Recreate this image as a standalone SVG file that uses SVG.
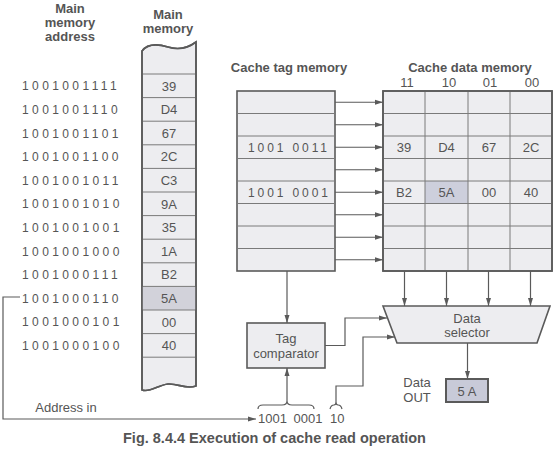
<svg xmlns="http://www.w3.org/2000/svg" width="557" height="455" viewBox="0 0 557 455">
<defs>
<marker id="ah" markerUnits="userSpaceOnUse" markerWidth="9" markerHeight="6" refX="8" refY="3" orient="auto">
<path d="M0,0.5 L8,3 L0,5.5 Z" fill="#5a5a5a"/>
</marker>
</defs>
<style>
text{font-family:"Liberation Sans",Arial,sans-serif;fill:#555}
.h{font-weight:bold;font-size:13px;text-anchor:middle}
.addr{font-size:12px;letter-spacing:3.4px}
.v{font-size:13px;text-anchor:middle}
.tag{font-size:12px;letter-spacing:2.9px}
.box{fill:#ededf0;stroke:#5a5a5a;stroke-width:1.6}
.grid{stroke:#7a7a7a;stroke-width:1;fill:none}
.conn{stroke:#5a5a5a;stroke-width:1.2;fill:none}
.hl{fill:#cdcfdc}
</style>
<rect width="557" height="455" fill="#fff"/>

<g id="headers">
<text class="h" x="70" y="13">Main</text>
<text class="h" x="70" y="27">memory</text>
<text class="h" x="70" y="41">address</text>
<text class="h" x="168" y="19">Main</text>
<text class="h" x="168" y="33">memory</text>
<text class="h" x="289" y="72">Cache tag memory</text>
<text class="h" x="470" y="72">Cache data memory</text>
<text class="v" x="407" y="87">11</text>
<text class="v" x="449" y="87">10</text>
<text class="v" x="490" y="87">01</text>
<text class="v" x="532" y="87">00</text>
</g>

<g id="main-memory-addresses">
<text class="addr" x="22" y="90.3">1001001111</text>
<text class="addr" x="22" y="113.9">1001001110</text>
<text class="addr" x="22" y="137.5">1001001101</text>
<text class="addr" x="22" y="161.1">1001001100</text>
<text class="addr" x="22" y="184.7">1001001011</text>
<text class="addr" x="22" y="208.3">1001001010</text>
<text class="addr" x="22" y="231.9">1001001001</text>
<text class="addr" x="22" y="255.5">1001001000</text>
<text class="addr" x="22" y="279.1">1001000111</text>
<text class="addr" x="22" y="302.7">1001000110</text>
<text class="addr" x="22" y="326.3">1001000101</text>
<text class="addr" x="22" y="349.9">1001000100</text>
</g>

<g id="main-memory">
<path class="box" d="M142,51 C148,43 158,44 168,47 C178,50 188,48 196,42 L196,386 C186,390 178,383 168,384 C158,385 150,393 142,390 Z"/>
<rect x="142" y="286.4" width="54" height="23.6" fill="#d2d2da"/>
<path class="grid" d="M142,74H196M142,97.6H196M142,121.2H196M142,144.8H196M142,168.4H196M142,192H196M142,215.6H196M142,239.2H196M142,262.8H196M142,286.4H196M142,310H196M142,333.6H196M142,357.2H196"/>
<path d="M142,51 C148,43 158,44 168,47 C178,50 188,48 196,42 L196,386 C186,390 178,383 168,384 C158,385 150,393 142,390 Z" fill="none" stroke="#5a5a5a" stroke-width="1.6"/>
<text class="v" x="169" y="90.5">39</text>
<text class="v" x="169" y="114.1">D4</text>
<text class="v" x="169" y="137.7">67</text>
<text class="v" x="169" y="161.3">2C</text>
<text class="v" x="169" y="184.9">C3</text>
<text class="v" x="169" y="208.5">9A</text>
<text class="v" x="169" y="232.1">35</text>
<text class="v" x="169" y="255.7">1A</text>
<text class="v" x="169" y="279.3">B2</text>
<text class="v" x="169" y="302.9">5A</text>
<text class="v" x="169" y="326.5">00</text>
<text class="v" x="169" y="350.1">40</text>
</g>

<g id="cache-tag-memory">
<rect class="box" x="237" y="91" width="98" height="180"/>
<path class="grid" d="M237,113.5H335M237,136H335M237,158.5H335M237,181H335M237,203.5H335M237,226H335M237,248.5H335"/>
<text class="tag" x="248" y="151.5">1001 0011</text>
<text class="tag" x="248" y="196.5">1001 0001</text>
</g>

<g id="cache-data-memory">
<rect class="box" x="383" y="91" width="169" height="180"/>
<rect class="hl" x="425" y="181" width="43" height="22.5"/>
<path class="grid" d="M383,113.5H552M383,136H552M383,158.5H552M383,181H552M383,203.5H552M383,226H552M383,248.5H552M425,91V271M468,91V271M510,91V271"/>
<rect x="383" y="91" width="169" height="180" fill="none" stroke="#5a5a5a" stroke-width="1.6"/>
<text class="v" x="404" y="152">39</text>
<text class="v" x="446.5" y="152">D4</text>
<text class="v" x="489" y="152">67</text>
<text class="v" x="531" y="152">2C</text>
<text class="v" x="404" y="197">B2</text>
<text class="v" x="446.5" y="197">5A</text>
<text class="v" x="489" y="197">00</text>
<text class="v" x="531" y="197">40</text>
</g>

<g id="tag-comparator">
<rect class="box" x="247" y="323" width="78" height="45" stroke-width="2"/>
<text class="v" x="286" y="343">Tag</text>
<text class="v" x="286" y="358">comparator</text>
</g>

<g id="data-selector">
<path class="box" d="M383,306 L550,306 L537,343 L397,343 Z" stroke-width="2"/>
<text class="v" x="467" y="323">Data</text>
<text class="v" x="467" y="337">selector</text>
</g>

<g id="data-out">
<text class="v" x="417" y="387">Data</text>
<text class="v" x="417" y="402">OUT</text>
<rect x="446" y="379" width="42" height="23" fill="#c8cad8" stroke="#5a5a5a" stroke-width="2"/>
<text class="v" x="467" y="395.5">5 A</text>
</g>

<g id="address-in">
<text class="v" x="66" y="412">Address in</text>
<text x="258" y="423" style="font-size:13px;word-spacing:3px">1001 0001</text>
<text x="330" y="423" style="font-size:13px">10</text>
<path class="conn" d="M258,409 Q258,405 263,405 L282,405 Q287,405 287,401 Q287,405 292,405 L309,405 Q314,405 314,409"/>
<path class="conn" d="M330,409 Q331,405 334,405 Q336,405 336,402 Q336,405 338,405 Q341,405 342,409"/>
</g>

<g id="connectors">
<line class="conn" x1="335" y1="102.25" x2="383" y2="102.25" marker-end="url(#ah)"/>
<line class="conn" x1="335" y1="124.75" x2="383" y2="124.75" marker-end="url(#ah)"/>
<line class="conn" x1="335" y1="147.25" x2="383" y2="147.25" marker-end="url(#ah)"/>
<line class="conn" x1="335" y1="169.75" x2="383" y2="169.75" marker-end="url(#ah)"/>
<line class="conn" x1="335" y1="192.25" x2="383" y2="192.25" marker-end="url(#ah)"/>
<line class="conn" x1="335" y1="214.75" x2="383" y2="214.75" marker-end="url(#ah)"/>
<line class="conn" x1="335" y1="237.25" x2="383" y2="237.25" marker-end="url(#ah)"/>
<line class="conn" x1="335" y1="259.75" x2="383" y2="259.75" marker-end="url(#ah)"/>
<line class="conn" x1="404.5" y1="271" x2="404.5" y2="306" marker-end="url(#ah)"/>
<line class="conn" x1="446.5" y1="271" x2="446.5" y2="306" marker-end="url(#ah)"/>
<line class="conn" x1="488.5" y1="271" x2="488.5" y2="306" marker-end="url(#ah)"/>
<line class="conn" x1="530.5" y1="271" x2="530.5" y2="306" marker-end="url(#ah)"/>
<line class="conn" x1="287" y1="271" x2="287" y2="323" marker-end="url(#ah)"/>
<line class="conn" x1="287" y1="401" x2="287" y2="368" marker-end="url(#ah)"/>
<path class="conn" d="M325,345.5 H345 V318 H387" marker-end="url(#ah)"/>
<path class="conn" d="M336,402 V386 H363 V337 H395" marker-end="url(#ah)"/>
<line class="conn" x1="467.5" y1="343" x2="467.5" y2="379" marker-end="url(#ah)"/>
<path class="conn" d="M20,297 H3 V419 H256" marker-end="url(#ah)"/>
</g>

<text x="123" y="443" style="font-size:14.5px;font-weight:bold">Fig. 8.4.4 Execution of cache read operation</text>
</svg>
